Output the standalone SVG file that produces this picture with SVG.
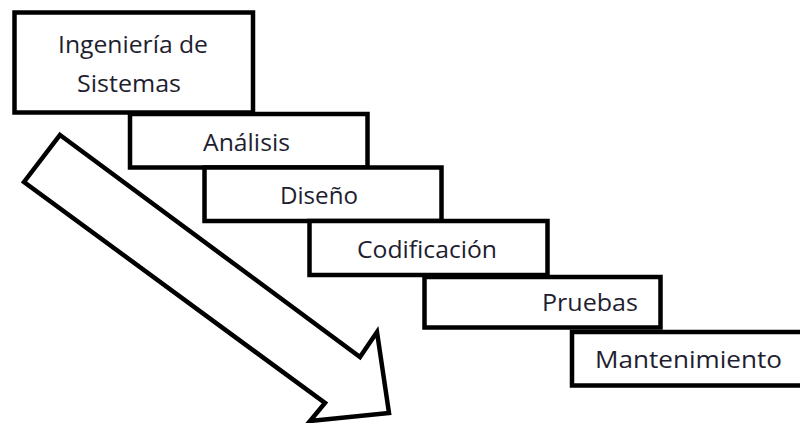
<svg xmlns="http://www.w3.org/2000/svg" width="800" height="423" viewBox="0 0 800 423">
<style>
.box{fill:#fff;stroke:#000;stroke-width:4.5;stroke-linejoin:miter}
.lbl{font-family:"Open Sans","Noto Sans","DejaVu Sans",sans-serif;font-size:24.5px;fill:#1e1e30}
.arrow{fill:#fff;stroke:#000;stroke-width:4.5;stroke-linejoin:miter}
</style>
<rect width="800" height="423" fill="#fff"/>
<g id="connectors">
<polygon class="arrow" points="60,135 360,357 377,332 389,413 310,421 325,403 24,182"/>
</g>
<g id="n1"><rect class="box" x="14.5" y="12.5" width="238.5" height="100"/>
<text class="lbl" x="58" y="53" textLength="150" lengthAdjust="spacingAndGlyphs">Ingeniería de</text>
<text class="lbl" x="77" y="92" textLength="104" lengthAdjust="spacingAndGlyphs">Sistemas</text></g>
<g id="n2"><rect class="box" x="130" y="114" width="237.5" height="53.5"/>
<text class="lbl" x="203" y="151" textLength="87" lengthAdjust="spacingAndGlyphs">Análisis</text></g>
<g id="n3"><rect class="box" x="204.5" y="167.5" width="237" height="53.5"/>
<text class="lbl" x="280" y="204" textLength="78" lengthAdjust="spacingAndGlyphs">Diseño</text></g>
<g id="n4"><rect class="box" x="309.5" y="221" width="238" height="54"/>
<text class="lbl" x="357" y="258" textLength="140" lengthAdjust="spacingAndGlyphs">Codificación</text></g>
<g id="n5"><rect class="box" x="424.5" y="277" width="236" height="50.5"/>
<text class="lbl" x="542" y="311" textLength="96" lengthAdjust="spacingAndGlyphs">Pruebas</text></g>
<g id="n6"><rect class="box" x="572" y="332" width="240" height="53.5"/>
<text class="lbl" x="595" y="368" textLength="187" lengthAdjust="spacingAndGlyphs">Mantenimiento</text></g>
</svg>
